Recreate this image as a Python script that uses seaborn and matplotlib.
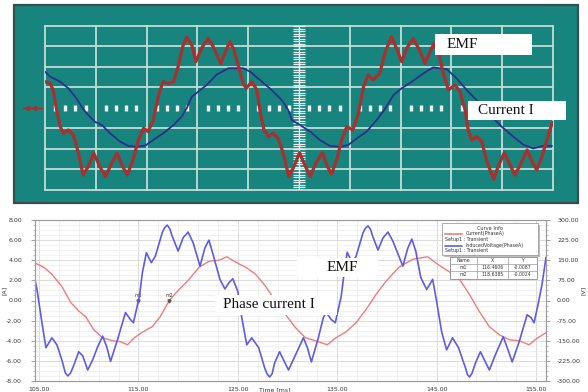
import numpy as np
import pandas as pd
import matplotlib
matplotlib.use("Agg")
import matplotlib.pyplot as plt
from matplotlib.patches import Rectangle
from matplotlib.lines import Line2D
from matplotlib.ticker import FixedLocator, FormatStrFormatter
import seaborn as sns

# ---------------- oscilloscope capture (screen divisions) ----------------
scope_emf_x = [0.00, 0.10, 0.16, 0.23, 0.30, 0.36, 0.46, 0.56, 0.66, 0.75,
               0.85, 0.96, 1.08, 1.19, 1.31, 1.42, 1.53, 1.62, 1.73, 1.84,
               1.94, 2.03, 2.13, 2.23, 2.32, 2.43, 2.53, 2.62, 2.71, 2.79,
               2.89, 2.97, 3.08, 3.21, 3.31, 3.46, 3.58, 3.64, 3.72, 3.81,
               3.90, 3.96, 4.07, 4.17, 4.23, 4.31, 4.40, 4.49, 4.59, 4.69,
               4.80, 4.90, 5.01, 5.10, 5.22, 5.33, 5.46, 5.56, 5.64, 5.74,
               5.84, 5.94, 6.06, 6.17, 6.27, 6.36, 6.46, 6.59, 6.69, 6.82,
               6.92, 7.02, 7.12, 7.25, 7.37, 7.48, 7.58, 7.66, 7.76, 7.84,
               7.94, 8.07, 8.17, 8.27, 8.33, 8.40, 8.50, 8.60, 8.69, 8.83,
               8.92, 9.04, 9.14, 9.25, 9.37, 9.49, 9.59, 9.68, 9.78, 9.88,
               9.98, 10.00]
scope_emf_y = [1.28, 1.20, 0.88, -0.10, -0.91, -1.23, -1.07, -1.32, -2.21, -3.27,
               -2.86, -2.21, -2.86, -3.35, -2.70, -2.21, -2.86, -3.27, -2.54, -1.56,
               -0.99, -1.15, -0.59, 0.55, 1.28, 1.20, 1.28, 2.01, 2.99, 3.45,
               3.07, 2.26, 2.91, 3.40, 3.00, 2.18, 2.91, 3.23, 2.83, 2.01,
               1.20, 0.96, 1.28, 0.88, -0.10, -1.07, -1.40, -1.23, -1.48, -2.21,
               -3.35, -2.86, -2.18, -2.70, -3.35, -2.70, -2.18, -2.86, -3.22, -2.54,
               -1.56, -0.91, -1.07, -0.26, 1.04, 1.61, 1.37, 1.69, 2.67, 3.48,
               2.91, 2.26, 2.91, 3.40, 2.83, 2.18, 2.75, 3.16, 2.59, 1.69,
               0.88, 1.12, 0.80, -0.10, -1.07, -1.56, -1.40, -1.64, -2.54, -3.48,
               -2.86, -2.18, -2.70, -3.27, -2.70, -2.05, -2.62, -3.02, -2.38, -1.56,
               -0.75, -0.70]

scope_cur_x = [0.00, 0.10, 0.30, 0.46, 0.62, 0.72, 0.82, 0.98, 1.12, 1.28,
               1.48, 1.64, 1.80, 1.97, 2.13, 2.33, 2.53, 2.69, 2.79, 2.89,
               3.02, 3.18, 3.38, 3.61, 3.90, 4.04, 4.23, 4.46, 4.66, 4.79,
               4.86, 5.02, 5.22, 5.41, 5.61, 5.81, 5.97, 6.14, 6.33, 6.53,
               6.69, 6.86, 7.02, 7.22, 7.45, 7.64, 7.91, 8.10, 8.33, 8.56,
               8.79, 8.99, 9.22, 9.42, 9.61, 9.81, 9.98]
scope_cur_y = [1.77, 1.53, 1.28, 0.96, 0.47, 0.06, -0.26, -0.67, -0.83, -1.23,
               -1.64, -1.85, -1.89, -1.84, -1.56, -1.23, -0.83, -0.42, -0.01, 0.55,
               0.80, 1.12, 1.63, 1.94, 1.94, 1.77, 1.37, 0.88, 0.39, -0.10,
               -0.59, -0.83, -1.15, -1.56, -1.85, -1.89, -1.80, -1.48, -1.15, -0.59,
               -0.05, 0.63, 0.96, 1.28, 1.69, 1.98, 1.89, 1.45, 0.80, 0.23,
               -0.42, -0.91, -1.40, -1.80, -1.97, -1.85, -1.85]

# ---------------- transient solver result ----------------
current_t = [104.55, 105.5, 106.3, 107.3, 108.2, 109.0, 109.7, 110.5, 111.4, 112.4,
             113.2, 113.9, 114.6, 115.4, 116.4, 117.2, 118.1, 119.1, 120.1, 121.1,
             122.1, 123.1, 123.9, 124.8, 125.8, 126.8, 127.8, 128.8, 129.8, 130.8,
             131.8, 132.8, 134.0, 134.8, 135.9, 136.9, 137.9, 138.9, 139.9, 141.2,
             142.6, 144.1, 145.1, 146.2, 147.3, 148.3, 149.3, 150.3, 151.3, 152.3,
             153.3, 154.3, 155.1, 156.0]
current_a = [3.75, 3.3, 2.6, 1.4, -0.2, -1.05, -1.6, -2.9, -3.7, -4.0,
             -4.1, -4.4, -3.7, -3.15, -2.6, -1.6, 0.0, 1.1, 2.1, 3.3,
             3.9, 4.0, 4.35, 3.8, 3.3, 2.6, 1.4, -0.05, -1.4, -2.7,
             -3.7, -4.0, -4.4, -3.75, -3.1, -2.2, -0.9, 0.6, 1.9, 3.3,
             4.1, 4.35, 3.6, 2.9, 2.1, 0.6, -1.1, -2.6, -3.4, -3.9,
             -4.0, -4.4, -3.75, -3.2]

emf_t = [104.55, 104.8, 105.3, 105.7, 106.3, 106.8, 107.3, 107.65, 107.9, 108.15,
         108.4, 109.0, 109.4, 109.9, 110.4, 110.9, 111.4, 111.8, 112.2, 112.9,
         113.7, 114.2, 114.5, 114.8, 115.1, 115.4, 115.8, 116.3, 116.7, 117.4,
         117.65, 117.9, 118.15, 118.4, 119.0, 119.5, 120.0, 120.5, 121.2, 121.7,
         122.1, 122.5, 123.2, 123.7, 124.1, 124.5, 125.0, 125.4, 125.9, 126.4,
         127.1, 127.7, 127.95, 128.2, 128.45, 128.7, 129.2, 129.7, 130.1, 130.8,
         131.6, 132.0, 132.4, 133.1, 133.6, 133.9, 134.4, 134.8, 135.1, 135.4,
         135.7, 136.0, 136.5, 136.9, 137.6, 137.85, 138.1, 138.35, 138.6, 139.1,
         139.6, 140.1, 140.6, 141.6, 142.1, 142.5, 142.9, 143.4, 144.0, 144.6,
         145.0, 145.5, 146.0, 146.6, 147.2, 147.9, 148.1, 148.3, 148.55, 148.9,
         149.4, 149.9, 150.3, 150.9, 151.7, 152.1, 152.6, 153.3, 154.1, 154.5,
         154.8, 155.2, 155.6, 156.0]
emf_v = [86, 41, -83, -176, -139, -165, -221, -270, -281, -272,
         -251, -191, -206, -259, -221, -173, -133, -171, -227, -146,
         -45, -71, -83, -34, 15, 103, 178, 141, 165, 253,
         272, 281, 268, 240, 184, 234, 255, 216, 128, 197,
         225, 173, 79, 43, 66, 81, 34, -64, -165, -139,
         -176, -251, -274, -285, -273, -233, -191, -229, -259, -203,
         -139, -176, -229, -139, -64, -45, -71, -83, -34, 15,
         103, 180, 141, 165, 253, 270, 278, 265, 236, 188,
         233, 255, 221, 128, 195, 229, 184, 86, 41, 79,
         -4, -116, -184, -139, -176, -251, -276, -285, -272, -233,
         -191, -229, -259, -203, -135, -176, -229, -154, -53, -64,
         -83, -15, 60, 161]

x_ticks = [105, 115, 125, 135, 145, 155]
a_ticks = [-8, -6, -4, -2, 0, 2, 4, 6, 8]
v_ticks = [-300, -225, -150, -75, 0, 75, 150, 225, 300]

marker_names = ["m1", "m2"]
marker_t = [115.0, 118.1]
table_x = ["116.4606", "118.6385"]
table_y = ["-0.0087", "-0.0024"]
curve_names = ["Current(PhaseA)", "InducedVoltage(PhaseA)"]

# ---------------- styling ----------------
sns.set_theme(style="white")
plt.rcParams["font.family"] = ["DejaVu Sans"]

TEAL = "#17847e"
GRID = "#c4dcd8"
SCOPE_RED = "#a8302e"
SCOPE_BLUE = "#2c2f8c"
CUR_RED = "#f07c7c"
EMF_BLUE = "#5c5ce8"
SERIF = "Liberation Serif"
ROUND = dict(solid_joinstyle="round", solid_capstyle="round")

W, H = 588.0, 392.0


def fig_box(x0, y0, x1, y1):
    """Pixel box (top-left origin) to figure fraction rectangle."""
    return [x0 / W, 1 - y1 / H, (x1 - x0) / W, (y1 - y0) / H]


def label_box(fig, x0, y0, x1, y1, text, tx, size):
    fig.add_artist(Rectangle((x0 / W, 1 - y1 / H), (x1 - x0) / W, (y1 - y0) / H,
                             transform=fig.transFigure, facecolor="white",
                             edgecolor="none", zorder=5))
    fig.text(tx / W, 1 - (y0 + y1) / 2 / H, text, family=SERIF, fontsize=size,
             ha="left", va="center", color="#111111", zorder=6)


fig = plt.figure(figsize=(5.88, 3.92), dpi=100)
fig.patch.set_facecolor("white")

# ---------------- upper panel: oscilloscope screen ----------------
fig.add_artist(Rectangle((14 / W, 1 - 203 / H), 564 / W, 198 / H,
                         transform=fig.transFigure, facecolor=TEAL,
                         edgecolor="#3a4f4d", linewidth=1.6, zorder=-2))
ax_s = fig.add_axes(fig_box(45, 26, 553, 190))
ax_s.set_facecolor("none")
for v in range(0, 11):
    if v != 5:
        ax_s.axvline(v, color=GRID, lw=1.3, zorder=1, clip_on=False)
for h in range(-4, 5):
    if h != 0:
        ax_s.axhline(h, color=GRID, lw=1.3, zorder=1, clip_on=False)
# centre graticule: ruler on the vertical, dotted marks on the horizontal
ax_s.axvline(5, color="#e6f2f0", lw=1.0, zorder=1)
ax_s.hlines(np.arange(-4, 4.001, 0.125), 4.88, 5.12, color="#e6f2f0", lw=0.9, zorder=1)
dot_x = [k * 0.2 for k in range(1, 50) if k % 5 != 0]
ax_s.plot(dot_x, [0] * len(dot_x), ls="none", marker="|", ms=4.8, mew=2.4,
          color="#eef7f5", zorder=1)

sns.lineplot(x=scope_cur_x, y=scope_cur_y, ax=ax_s, color=SCOPE_BLUE, lw=1.3,
             estimator=None, sort=False, zorder=3, **ROUND)
sns.lineplot(x=scope_emf_x, y=scope_emf_y, ax=ax_s, color=SCOPE_RED, lw=2.3,
             estimator=None, sort=False, zorder=4, **ROUND)
ax_s.set_xlim(0, 10)
ax_s.set_ylim(-4, 4)
ax_s.set_xticks([])
ax_s.set_yticks([])
ax_s.set_xlabel("")
ax_s.set_ylabel("")
for sp in ax_s.spines.values():
    sp.set_visible(False)

# trigger marker at the left of the screen
fig.add_artist(Line2D([23 / W, 42 / W], [1 - 108 / H] * 2, color=SCOPE_RED, lw=1.0,
                      transform=fig.transFigure, zorder=3))
fig.add_artist(Line2D([27 / W, 34 / W], [1 - 108 / H] * 2, color=SCOPE_RED, ls="none",
                      marker="<", ms=3, transform=fig.transFigure, zorder=3))

label_box(fig, 435, 34, 532, 55, "EMF", 447, 11)
label_box(fig, 468, 101, 566, 120, "Current I", 478, 11)

# ---------------- lower panel: transient solution ----------------
ax_a = fig.add_axes(fig_box(34.5, 220, 546, 381))
ax_a.set_facecolor("white")
ax_v = ax_a.twinx()

df_cur = pd.DataFrame({"t": current_t, "i": current_a})
df_emf = pd.DataFrame({"t": emf_t, "e": emf_v})
sns.lineplot(data=df_cur, x="t", y="i", ax=ax_a, color=CUR_RED, lw=1.0,
             estimator=None, sort=False, **ROUND)
sns.lineplot(data=df_emf, x="t", y="e", ax=ax_v, color=EMF_BLUE, lw=1.2,
             estimator=None, sort=False, **ROUND)

ax_a.set_xlim(104.55, 156.0)
ax_a.set_ylim(-8, 8)
ax_v.set_ylim(-300, 300)

ax_a.xaxis.set_major_locator(FixedLocator(x_ticks))
ax_a.xaxis.set_minor_locator(FixedLocator(list(range(105, 156, 2))))
ax_a.yaxis.set_major_locator(FixedLocator(a_ticks))
ax_a.yaxis.set_minor_locator(FixedLocator(list(np.arange(-8, 8.01, 0.5))))
ax_v.yaxis.set_major_locator(FixedLocator(v_ticks))
ax_v.yaxis.set_minor_locator(FixedLocator(list(np.arange(-300, 300.1, 18.75))))
for axis in (ax_a.xaxis, ax_a.yaxis, ax_v.yaxis):
    axis.set_major_formatter(FormatStrFormatter("%.2f"))

ax_a.grid(which="major", color="#d6d6d6", lw=0.6)
ax_a.grid(which="minor", color="#ececec", lw=0.5)
ax_v.grid(False)
ax_a.set_axisbelow(True)

for ax in (ax_a, ax_v):
    ax.tick_params(which="major", direction="out", length=3, width=0.5,
                   color="#7a7a7a", labelsize=4.5, labelcolor="#3a3a3a", pad=1.5)
    ax.tick_params(which="minor", direction="out", length=1.6, width=0.4,
                   color="#9a9a9a")
    ax.set_xlabel("")
    ax.set_ylabel("")
    for sp in ax.spines.values():
        sp.set_color("#9c9c9c")
        sp.set_linewidth(0.8)
ax_a.tick_params(axis="y", pad=6)
ax_v.tick_params(axis="y", pad=5)
ax_a.tick_params(axis="x", pad=1)

fig.text(275 / W, 1 - 387 / H, "Time [ms]", fontsize=4.5, color="#3a3a3a",
         ha="center", va="top")
fig.text(4 / W, 1 - 290 / H, "[A]", fontsize=4.5, rotation=90, color="#3a3a3a",
         ha="center", va="center")
fig.text(583 / W, 1 - 290 / H, "[V]", fontsize=4.5, rotation=90, color="#3a3a3a",
         ha="center", va="center")

# point markers on the traces
for name, t in zip(marker_names, marker_t):
    ax_a.plot([t], [0.0], marker="v", ms=2.2, color="#555555", ls="none", zorder=6)
    ax_a.text(t - 0.35, 0.35, name, fontsize=3.4, color="#444444", zorder=6)

# curve info legend
fig.add_artist(Rectangle((444 / W, 1 - 257 / H), 96 / W, 32 / H, transform=fig.transFigure,
                         facecolor="#bdbdbd", edgecolor="none", zorder=5))
fig.add_artist(Rectangle((442 / W, 1 - 255 / H), 96 / W, 32 / H, transform=fig.transFigure,
                         facecolor="white", edgecolor="#9a9a9a", lw=0.6, zorder=5))
fig.text(490 / W, 1 - 228 / H, "Curve Info", fontsize=3.6, color="#333333",
         ha="center", va="center", zorder=6)
for k, (name, col) in enumerate(zip(curve_names, [CUR_RED, EMF_BLUE])):
    yl = 234 + k * 12
    fig.add_artist(Line2D([445 / W, 462 / W], [1 - yl / H] * 2, color=col, lw=1.2,
                          transform=fig.transFigure, zorder=6))
    fig.text(466 / W, 1 - (yl - 0.5) / H, name, fontsize=3.4, color="#333333",
             ha="left", va="center", zorder=6)
    fig.text(445 / W, 1 - (yl + 5) / H, "Setup1 : Transient", fontsize=3.4,
             color="#333333", ha="left", va="center", zorder=6)

# marker table
fig.add_artist(Rectangle((450 / W, 1 - 279 / H), 87 / W, 22 / H, transform=fig.transFigure,
                         facecolor="white", edgecolor="#8a8a8a", lw=0.6, zorder=5))
for yl in (264, 271):
    fig.add_artist(Line2D([450 / W, 537 / W], [1 - yl / H] * 2, color="#9a9a9a", lw=0.5,
                          transform=fig.transFigure, zorder=6))
for xl in (477, 508):
    fig.add_artist(Line2D([xl / W] * 2, [1 - 257 / H, 1 - 279 / H], color="#9a9a9a", lw=0.5,
                          transform=fig.transFigure, zorder=6))
col_x = [463.5, 492.5, 522.5]
rows = [["Name", "X", "Y"]] + [[n, x, y] for n, x, y in zip(marker_names, table_x, table_y)]
for r, row in enumerate(rows):
    yc = 260.5 + r * 7.2
    for cx, cell in zip(col_x, row):
        fig.text(cx / W, 1 - yc / H, cell, fontsize=3.3, color="#333333",
                 ha="center", va="center", zorder=7)

label_box(fig, 297, 258, 378, 277, "EMF", 327, 11)
label_box(fig, 215, 295, 337, 315, "Phase current I", 223, 11)

fig.savefig("out.png", dpi=100, facecolor="white")
